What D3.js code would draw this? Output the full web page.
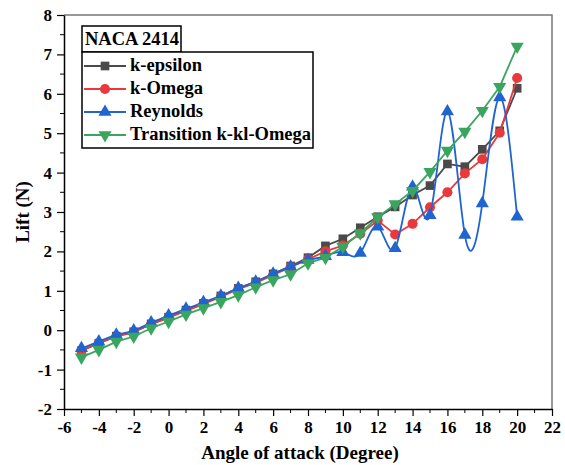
<!DOCTYPE html>
<html>
<head>
<meta charset="utf-8">
<script src="https://cdn.jsdelivr.net/npm/d3@7"></script>
<style>
  body { margin: 0; background: #fff; }
  text { font-family: "Liberation Serif", "Times New Roman", serif; font-weight: bold; }
</style>
</head>
<body>
<div class="viz"></div>
<script>
// angle of attack (deg)
const angles = [-5, -4, -3, -2, -1, 0, 1, 2, 3, 4, 5, 6, 7, 8, 9, 10, 11, 12, 13, 14, 15, 16, 17, 18, 19, 20];

const kEpsilon = [-0.52, -0.33, -0.15, -0.04, 0.16, 0.33, 0.51, 0.68, 0.87, 1.06, 1.23, 1.43, 1.63, 1.84, 2.14, 2.32, 2.6, 2.88, 3.13, 3.43, 3.67, 4.22, 4.15, 4.59, 5.06, 6.14];
const kOmega = [-0.52, -0.33, -0.16, -0.05, 0.15, 0.32, 0.49, 0.66, 0.85, 1.04, 1.2, 1.4, 1.6, 1.8, 2.0, 2.15, 2.45, 2.78, 2.43, 2.7, 3.12, 3.5, 3.98, 4.34, 5.01, 6.4];
const reynolds = [-0.46, -0.29, -0.12, -0.01, 0.19, 0.37, 0.54, 0.71, 0.87, 1.07, 1.23, 1.43, 1.61, 1.78, 1.88, 1.98, 1.96, 2.63, 2.08, 3.64, 2.92, 5.55, 2.42, 3.22, 5.91, 2.88];
const transition = [-0.69, -0.5, -0.29, -0.16, 0.05, 0.22, 0.4, 0.56, 0.72, 0.89, 1.09, 1.27, 1.42, 1.7, 1.84, 2.12, 2.46, 2.87, 3.2, 3.54, 4.02, 4.56, 5.04, 5.57, 6.18, 7.2];

const seriesNames = ['k-epsilon', 'k-Omega', 'Reynolds', 'Transition k-kl-Omega'];
const xTicks = [-6, -4, -2, 0, 2, 4, 6, 8, 10, 12, 14, 16, 18, 20, 22];
const yTicks = [-2, -1, 0, 1, 2, 3, 4, 5, 6, 7, 8];

const W = 565, H = 465;
const margin = { top: 15, right: 13, bottom: 56, left: 64 };
const width = W - margin.left - margin.right,
  height = H - margin.top - margin.bottom;

const series = [
  { name: seriesNames[0], values: kEpsilon, color: '#4a4a4a', symbol: d3.symbolSquare, size: 75, rot: 0, curve: d3.curveLinear },
  { name: seriesNames[1], values: kOmega, color: '#e8393c', symbol: d3.symbolCircle, size: 80, rot: 0, curve: d3.curveLinear },
  { name: seriesNames[2], values: reynolds, color: '#2065cf', symbol: d3.symbolTriangle, size: 75, rot: 0, curve: d3.curveNatural },
  { name: seriesNames[3], values: transition, color: '#3aa55e', symbol: d3.symbolTriangle, size: 75, rot: 180, curve: d3.curveLinear }
];

const x = d3.scaleLinear().domain([-6, 22]).range([0, width]);
const y = d3.scaleLinear().domain([-2, 8]).range([height, 0]);

const svg = d3.select('.viz').append('svg')
  .attr('width', W).attr('height', H);

const g = svg.append('g')
  .attr('transform', 'translate(' + margin.left + ',' + margin.top + ')');

// frame (top & right)
g.append('path')
  .attr('d', 'M0,0H' + width + 'V' + height)
  .attr('fill', 'none')
  .attr('stroke', '#777')
  .attr('stroke-width', 1.5);

// minor ticks
const xMinor = d3.range(-6, 23, 1).filter(v => xTicks.indexOf(v) < 0);
const yMinor = d3.range(-1.5, 8, 1);

const fmt = d => String(d); // plain hyphen minus like the original

const xAxis = g.append('g')
  .attr('transform', 'translate(0,' + height + ')')
  .call(d3.axisBottom(x).tickValues(xTicks).tickFormat(fmt).tickSize(7).tickPadding(5).tickSizeOuter(0));
xAxis.append('g').selectAll('line').data(xMinor).join('line')
  .attr('x1', d => x(d)).attr('x2', d => x(d))
  .attr('y1', 0).attr('y2', 4).attr('stroke', '#000');

const yAxis = g.append('g')
  .call(d3.axisLeft(y).tickValues(yTicks).tickFormat(fmt).tickSize(7).tickPadding(5).tickSizeOuter(0));
yAxis.append('g').selectAll('line').data(yMinor).join('line')
  .attr('y1', d => y(d)).attr('y2', d => y(d))
  .attr('x1', 0).attr('x2', -4).attr('stroke', '#000');

g.selectAll('.domain').attr('stroke', '#000').attr('stroke-width', 1.5);
g.selectAll('.tick line').attr('stroke-width', 1.2);
g.selectAll('.tick text')
  .attr('fill', '#000')
  .style('font-size', '17px')
  .style('font-family', '"Liberation Serif", serif')
  .style('font-weight', 'bold');

// axis titles
svg.append('text')
  .attr('x', margin.left + width / 2 - 8).attr('y', 459)
  .attr('text-anchor', 'middle').attr('font-size', 19)
  .text('Angle of attack (Degree)');
svg.append('text')
  .attr('transform', 'translate(29,' + (margin.top + height / 2) + ') rotate(-90)')
  .attr('text-anchor', 'middle').attr('font-size', 19)
  .text('Lift (N)');

// lines and markers
series.forEach(s => {
  const line = d3.line()
    .x((d, i) => x(angles[i]))
    .y(d => y(d))
    .curve(s.curve);
  g.append('path')
    .datum(s.values)
    .attr('fill', 'none')
    .attr('stroke', s.color)
    .attr('stroke-width', 1.8)
    .attr('d', line);
  g.append('g').selectAll('path')
    .data(s.values)
    .join('path')
    .attr('d', d3.symbol().type(s.symbol).size(s.size))
    .attr('transform', (d, i) => 'translate(' + x(angles[i]) + ',' + y(d) + ') rotate(' + s.rot + ')')
    .attr('fill', s.color);
});

// legend
const lg = svg.append('g').attr('transform', 'translate(82,26)');
lg.append('rect')
  .attr('x', 0).attr('y', 0).attr('width', 99).attr('height', 26)
  .attr('fill', '#fff').attr('stroke', '#000').attr('stroke-width', 1.5);
lg.append('text')
  .attr('x', 3).attr('y', 19).attr('font-size', 18.5)
  .text('NACA 2414');
lg.append('rect')
  .attr('x', 0).attr('y', 26).attr('width', 231).attr('height', 96)
  .attr('fill', '#fff').attr('stroke', '#000').attr('stroke-width', 1.5);
series.forEach((s, i) => {
  const yy = 40 + i * 23;
  lg.append('line')
    .attr('x1', 2).attr('x2', 44).attr('y1', yy).attr('y2', yy)
    .attr('stroke', s.color).attr('stroke-width', 1.8);
  lg.append('path')
    .attr('d', d3.symbol().type(s.symbol).size(s.size))
    .attr('transform', 'translate(23,' + yy + ') rotate(' + s.rot + ')')
    .attr('fill', s.color);
  lg.append('text')
    .attr('x', 48).attr('y', yy + 5).attr('font-size', 18.5)
    .text(s.name);
});
</script>
</body>
</html>
